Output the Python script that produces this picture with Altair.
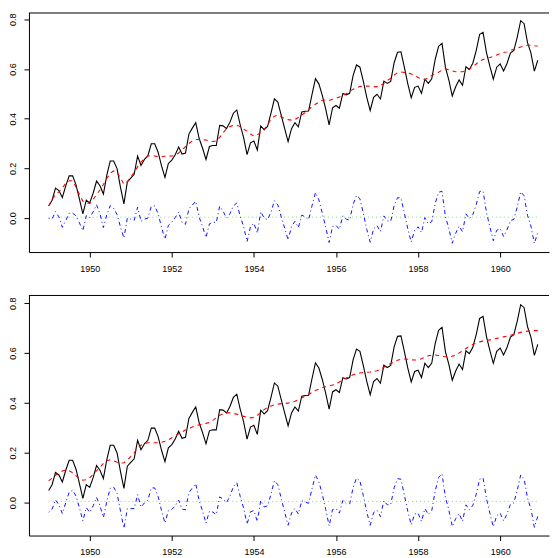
import altair as alt
import pandas as pd

# log10(AirPassengers) - 2, monthly Jan 1949 .. Dec 1960
ap = [0.049, 0.072, 0.121, 0.111, 0.083, 0.130, 0.170, 0.170, 0.134, 0.076, 0.017, 0.072,
      0.061, 0.100, 0.149, 0.130, 0.097, 0.173, 0.230, 0.230, 0.199, 0.124, 0.057, 0.146,
      0.161, 0.176, 0.250, 0.212, 0.236, 0.250, 0.299, 0.299, 0.265, 0.210, 0.164, 0.220,
      0.233, 0.255, 0.286, 0.258, 0.262, 0.338, 0.362, 0.384, 0.320, 0.281, 0.236, 0.288,
      0.292, 0.292, 0.373, 0.371, 0.360, 0.386, 0.422, 0.435, 0.375, 0.324, 0.255, 0.303,
      0.310, 0.274, 0.371, 0.356, 0.369, 0.422, 0.480, 0.467, 0.413, 0.360, 0.308, 0.360,
      0.384, 0.367, 0.427, 0.430, 0.431, 0.498, 0.561, 0.540, 0.494, 0.438, 0.375, 0.444,
      0.453, 0.442, 0.501, 0.496, 0.502, 0.573, 0.616, 0.607, 0.550, 0.486, 0.433, 0.486,
      0.498, 0.479, 0.551, 0.542, 0.550, 0.625, 0.667, 0.669, 0.606, 0.540, 0.484, 0.526,
      0.531, 0.502, 0.559, 0.542, 0.560, 0.638, 0.691, 0.703, 0.606, 0.555, 0.491, 0.528,
      0.556, 0.534, 0.609, 0.598, 0.623, 0.674, 0.739, 0.747, 0.666, 0.610, 0.559, 0.607,
      0.620, 0.592, 0.622, 0.664, 0.674, 0.728, 0.794, 0.782, 0.706, 0.664, 0.591, 0.635]

# filtered components (top panel)
level_f = [0.049, 0.075, 0.095, 0.106, 0.120, 0.140, 0.150, 0.150, 0.125, 0.095, 0.068, 0.062,
           0.059, 0.075, 0.095, 0.113, 0.135, 0.160, 0.180, 0.190, 0.185, 0.160, 0.137, 0.146,
           0.165, 0.185, 0.206, 0.225, 0.240, 0.250, 0.252, 0.250, 0.247, 0.247, 0.249, 0.249,
           0.250, 0.252, 0.262, 0.275, 0.287, 0.300, 0.310, 0.316, 0.316, 0.315, 0.314, 0.311,
           0.308, 0.310, 0.325, 0.343, 0.360, 0.368, 0.373, 0.374, 0.368, 0.358, 0.350, 0.338,
           0.330, 0.335, 0.345, 0.356, 0.375, 0.398, 0.410, 0.414, 0.408, 0.400, 0.396, 0.394,
           0.397, 0.405, 0.415, 0.425, 0.437, 0.448, 0.458, 0.467, 0.474, 0.475, 0.473, 0.478,
           0.482, 0.487, 0.492, 0.500, 0.510, 0.518, 0.525, 0.529, 0.531, 0.531, 0.530, 0.529,
           0.528, 0.533, 0.542, 0.553, 0.563, 0.575, 0.585, 0.588, 0.586, 0.583, 0.580, 0.574,
           0.566, 0.560, 0.557, 0.565, 0.574, 0.580, 0.587, 0.595, 0.600, 0.597, 0.592, 0.589,
           0.588, 0.589, 0.592, 0.600, 0.609, 0.620, 0.632, 0.638, 0.643, 0.646, 0.650, 0.656,
           0.662, 0.666, 0.669, 0.674, 0.679, 0.684, 0.688, 0.692, 0.695, 0.696, 0.693, 0.692]
seas_f = [0.000, -0.003, 0.026, 0.005, -0.037, -0.010, 0.020, 0.020, 0.009, -0.019, -0.051, 0.010,
          0.002, 0.025, 0.054, 0.017, -0.038, 0.013, 0.050, 0.040, 0.014, -0.036, -0.080, 0.000,
          -0.004, -0.009, 0.044, -0.013, -0.004, 0.000, 0.047, 0.049, 0.018, -0.037, -0.085, -0.029,
          -0.017, 0.003, 0.024, -0.017, -0.025, 0.038, 0.052, 0.068, 0.004, -0.034, -0.078, -0.023,
          -0.016, -0.018, 0.048, 0.028, 0.000, 0.018, 0.049, 0.061, 0.007, -0.034, -0.095, -0.035,
          -0.020, -0.061, 0.026, 0.000, -0.006, 0.024, 0.070, 0.053, 0.005, -0.040, -0.088, -0.034,
          -0.013, -0.038, 0.012, 0.005, -0.006, 0.050, 0.103, 0.073, 0.020, -0.037, -0.098, -0.034,
          -0.029, -0.045, 0.009, -0.004, -0.008, 0.055, 0.091, 0.078, 0.019, -0.045, -0.097, -0.043,
          -0.030, -0.054, 0.009, -0.011, -0.013, 0.050, 0.082, 0.081, 0.020, -0.043, -0.096, -0.048,
          -0.035, -0.058, 0.002, -0.023, -0.014, 0.058, 0.104, 0.108, 0.006, -0.042, -0.101, -0.061,
          -0.032, -0.055, 0.017, -0.002, 0.014, 0.054, 0.107, 0.109, 0.023, -0.036, -0.091, -0.049,
          -0.042, -0.074, -0.047, -0.010, -0.005, 0.044, 0.106, 0.090, 0.011, -0.032, -0.102, -0.057]
slope_f_t = [1949.0, 1949.25, 1955.0, 1960.917]
slope_f = [0.000, 0.004, 0.004, 0.004]

# smoothed components (bottom panel)
level_s = [0.087, 0.098, 0.110, 0.120, 0.127, 0.130, 0.128, 0.120, 0.108, 0.097, 0.090, 0.092,
           0.100, 0.113, 0.128, 0.142, 0.157, 0.168, 0.172, 0.168, 0.162, 0.158, 0.160, 0.170,
           0.185, 0.200, 0.218, 0.230, 0.237, 0.240, 0.240, 0.240, 0.240, 0.242, 0.246, 0.252,
           0.260, 0.268, 0.276, 0.284, 0.291, 0.298, 0.303, 0.308, 0.312, 0.315, 0.318, 0.322,
           0.330, 0.340, 0.350, 0.357, 0.360, 0.360, 0.358, 0.355, 0.350, 0.346, 0.342, 0.340,
           0.342, 0.350, 0.362, 0.373, 0.382, 0.388, 0.392, 0.395, 0.397, 0.398, 0.399, 0.402,
           0.407, 0.413, 0.420, 0.427, 0.434, 0.442, 0.450, 0.456, 0.461, 0.465, 0.468, 0.472,
           0.477, 0.484, 0.492, 0.500, 0.507, 0.513, 0.517, 0.520, 0.522, 0.523, 0.524, 0.526,
           0.529, 0.535, 0.543, 0.551, 0.558, 0.565, 0.571, 0.575, 0.576, 0.575, 0.573, 0.572,
           0.573, 0.577, 0.583, 0.589, 0.592, 0.592, 0.590, 0.587, 0.585, 0.585, 0.587, 0.592,
           0.600, 0.609, 0.618, 0.627, 0.634, 0.640, 0.645, 0.648, 0.650, 0.653, 0.656, 0.659,
           0.662, 0.665, 0.668, 0.671, 0.675, 0.679, 0.683, 0.686, 0.688, 0.689, 0.690, 0.690]
seas_s = [-0.038, -0.026, 0.011, -0.009, -0.044, 0.000, 0.042, 0.050, 0.026, -0.021, -0.073, -0.020,
          -0.039, -0.013, 0.021, -0.012, -0.060, 0.005, 0.058, 0.062, 0.037, -0.034, -0.103, -0.024,
          -0.024, -0.024, 0.032, -0.018, -0.001, 0.010, 0.059, 0.059, 0.025, -0.032, -0.082, -0.032,
          -0.027, -0.013, 0.010, -0.026, -0.029, 0.040, 0.059, 0.076, 0.008, -0.034, -0.082, -0.034,
          -0.038, -0.048, 0.023, 0.014, 0.000, 0.026, 0.064, 0.080, 0.025, -0.022, -0.087, -0.037,
          -0.032, -0.076, 0.009, -0.017, -0.013, 0.034, 0.088, 0.072, 0.016, -0.038, -0.091, -0.042,
          -0.023, -0.046, 0.007, 0.003, -0.003, 0.056, 0.111, 0.084, 0.033, -0.027, -0.093, -0.028,
          -0.024, -0.042, 0.009, -0.004, -0.005, 0.060, 0.099, 0.087, 0.028, -0.037, -0.091, -0.040,
          -0.031, -0.056, 0.008, -0.009, -0.008, 0.060, 0.096, 0.094, 0.030, -0.035, -0.089, -0.046,
          -0.042, -0.075, -0.024, -0.047, -0.032, 0.046, 0.101, 0.116, 0.021, -0.030, -0.096, -0.064,
          -0.044, -0.075, -0.009, -0.029, -0.011, 0.034, 0.094, 0.099, 0.016, -0.043, -0.097, -0.052,
          -0.042, -0.073, -0.046, -0.007, -0.001, 0.049, 0.111, 0.096, 0.018, -0.025, -0.099, -0.055]
slope_s_t = [1949.0, 1960.917]
slope_s = [0.005, 0.005]

x_ticks = [1950, 1952, 1954, 1956, 1958, 1960]
y_ticks = [0.0, 0.2, 0.4, 0.6, 0.8]

times = [1949 + i / 12 for i in range(len(ap))]

FONT = "Liberation Sans"
W = 521


def panel(level, seas, slope_t, slope_v, ydom, h):
    df = pd.DataFrame({"t": times, "ap": ap, "level": level, "seas": seas})
    sl = pd.DataFrame({"t": slope_t, "slope": slope_v})
    frame = pd.DataFrame({"edge": ["top"]})
    xs = alt.Scale(domain=[1948.52, 1961.19], nice=False, zero=False)
    ys = alt.Scale(domain=ydom, nice=False, zero=False)
    xaxis = alt.Axis(values=x_ticks, format="d", title=None, grid=False,
                     tickSize=5, labelPadding=14, labelBaseline="alphabetic",
                     labelFont=FONT, labelFontSize=9, labelColor="#000",
                     domainColor="#000", tickColor="#000", domainWidth=1,
                     minExtent=20, maxExtent=20)
    yaxis = alt.Axis(values=y_ticks, format=".1f", title=None, grid=False,
                     tickSize=5, labelPadding=8, labelAngle=270,
                     labelAlign="center", labelBaseline="alphabetic",
                     labelFont=FONT, labelFontSize=9, labelColor="#000",
                     domainColor="#000", tickColor="#000", domainWidth=1,
                     minExtent=21, maxExtent=21)
    X = alt.X("t:Q", scale=xs, axis=xaxis)
    base = alt.Chart(df)
    l_ap = base.mark_line(color="#000000", strokeWidth=1.1).encode(
        x=X, y=alt.Y("ap:Q", scale=ys, axis=yaxis))
    l_lev = base.mark_line(color="#FF0000", strokeWidth=1.1, strokeDash=[4, 4]).encode(
        x=X, y=alt.Y("level:Q", scale=ys, axis=yaxis))
    l_slope = alt.Chart(sl).mark_line(color="#7FDF7F", strokeWidth=1, strokeDash=[1, 3]).encode(
        x=X, y=alt.Y("slope:Q", scale=ys, axis=yaxis))
    l_seas = base.mark_line(color="#1010FF", strokeWidth=1, strokeDash=[1, 3, 4, 3]).encode(
        x=X, y=alt.Y("seas:Q", scale=ys, axis=yaxis))
    top_rule = alt.Chart(frame).mark_rule(color="#000", strokeWidth=1).encode(
        x=alt.value(0), x2=alt.value(W), y=alt.value(0.5))
    return alt.layer(l_ap, l_lev, l_slope, l_seas, top_rule).properties(width=W, height=h)


top = panel(level_f, seas_f, slope_f_t, slope_f, [-0.1365, 0.827], 240)
bottom = panel(level_s, seas_s, slope_s_t, slope_s, [-0.132, 0.833], 241)

chart = alt.vconcat(top, bottom, spacing=22).properties(
    padding={"top": 4, "left": 0, "right": 0, "bottom": 0}
).configure_view(strokeWidth=0)

chart.save("out.html", embed_options={"renderer": "svg", "actions": False})
